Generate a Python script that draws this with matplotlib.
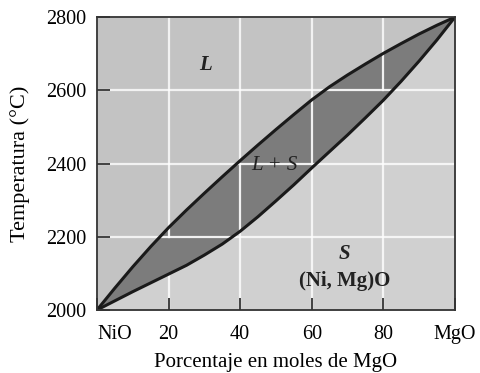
"""
  Diagrama de fases NiO - MgO (solucion solida completa).
"""

import numpy as np
import matplotlib
matplotlib.use("Agg")
from matplotlib import pyplot as plt

# composicion en % molar de MgO
mgo_pct = [0, 5, 10, 15, 20, 25, 30, 35, 40, 45, 50,
           55, 60, 65, 70, 75, 80, 85, 90, 95, 100]
# curva de liquidus (°C)
liquidus = [2000, 2060, 2118, 2173, 2225, 2273, 2319, 2364, 2408, 2451, 2493,
            2534, 2574, 2610, 2642, 2672, 2701, 2728, 2754, 2778, 2800]
# curva de solidus (°C)
solidus = [2000, 2025, 2050, 2074, 2098, 2122, 2150, 2180, 2215, 2255, 2298,
           2342, 2388, 2433, 2478, 2525, 2573, 2625, 2680, 2738, 2800]

x_ticks = [0, 20, 40, 60, 80, 100]
x_labels = ["NiO", "20", "40", "60", "80", "MgO"]
y_ticks = [2000, 2200, 2400, 2600, 2800]

plt.rcParams['font.family'] = ['Liberation Serif', 'DejaVu Serif']

fig = plt.figure(figsize=(4.81, 3.73), dpi=100)
ax = fig.add_axes([0.2017, 0.169, 0.744, 0.785])

x = np.array(mgo_pct)
liq = np.array(liquidus)
sol = np.array(solidus)

ax.set_xlim(0, 100)
ax.set_ylim(2000, 2800)

# regiones: liquido, solido y la lente L + S
ax.fill_between(x, liq, 2800, color='#c3c3c3', lw=0, zorder=0)
ax.fill_between(x, 2000, sol, color='#d0d0d0', lw=0, zorder=0)

# rejilla blanca de fondo
for gx in [20, 40, 60, 80]:
    ax.plot([gx, gx], [2000, 2800], color='white', lw=1.6, alpha=0.8,
            zorder=1)
for gy in [2200, 2400, 2600]:
    ax.plot([0, 100], [gy, gy], color='white', lw=1.6, alpha=0.8, zorder=1)

ax.fill_between(x, sol, liq, color='#7c7c7c', lw=0, zorder=2)


def x_at(curve, temp):
    """composicion donde la curva alcanza la temperatura dada"""
    return np.interp(temp, curve, x)


def t_at(curve, comp):
    """temperatura de la curva para una composicion"""
    return np.interp(comp, x, curve)


# escalones blancos dentro de la lente
steps = [
    ([x_at(liq, 2200), x_at(sol, 2200)], [2200, 2200]),
    ([20, 20], [2200, t_at(liq, 20)]),
    ([40, 40], [t_at(sol, 40), 2400]),
    ([x_at(liq, 2400), x_at(sol, 2400)], [2400, 2400]),
    ([60, 60], [2400, t_at(liq, 60)]),
    ([x_at(liq, 2600), x_at(sol, 2600)], [2600, 2600]),
    ([80, 80], [2600, t_at(liq, 80)]),
]
for sx, sy in steps:
    ax.plot(sx, sy, color='white', lw=1.6, alpha=0.9, zorder=3)

ax.plot(x, liq, color='#1a1a1a', lw=2.2, zorder=4,
        solid_joinstyle='round')
ax.plot(x, sol, color='#1a1a1a', lw=2.2, zorder=4,
        solid_joinstyle='round')

for s in ax.spines.values():
    s.set_color('#333333')
    s.set_linewidth(1.3)
    s.set_zorder(5)

ax.set_xticks(x_ticks)
ax.set_xticklabels(x_labels)
ax.get_xticklabels()[0].set_horizontalalignment('left')
ax.set_yticks(y_ticks)
ax.tick_params(direction='in', length=9, width=1.3, color='#333333',
               labelsize=14.5, pad=8)
ax.tick_params(axis='x', pad=11)

ax.text(30.3, 2668, 'L', style='italic', weight='bold', fontsize=15,
        ha='center', va='center', color='#222222', zorder=6)
ax.text(49.7, 2395, 'L + S', style='italic', fontsize=15,
        ha='center', va='center', color='#222222', zorder=6)
ax.text(69.2, 2153, 'S', style='italic', weight='bold', fontsize=15,
        ha='center', va='center', color='#222222', zorder=6)
ax.text(69.2, 2079, '(Ni, Mg)O', weight='bold', fontsize=15,
        ha='center', va='center', color='#222222', zorder=6)

ax.set_ylabel('Temperatura (°C)', fontsize=16, labelpad=11)
ax.set_xlabel('Porcentaje en moles de MgO', fontsize=15, labelpad=6)

fig.savefig('out.png', dpi=100)
